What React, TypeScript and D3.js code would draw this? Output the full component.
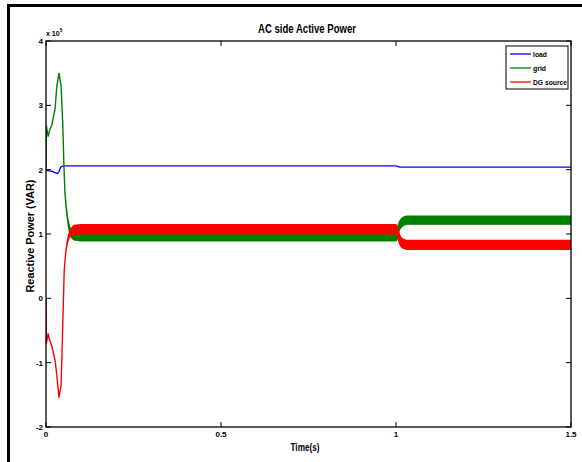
import React from "react";
import * as d3 from "d3";

// values in units of 10^5 VAR
const xTicks = [0, 0.5, 1, 1.5];
const xTickLabels = ["0", "0.5", "1", "1.5"];
const yTicks = [-2, -1, 0, 1, 2, 3, 4];
const yTickLabels = ["-2", "-1", "0", "1", "2", "3", "4"];

const seriesNames = ["load", "grid", "DG source"];
const seriesColors = ["#0000ff", "#008000", "#ff0000"];

const loadT = [0, 0.01, 0.02, 0.027, 0.033, 0.037, 0.042, 0.05, 0.1, 0.5, 1.0, 1.01, 1.5];
const loadV = [1.99, 1.98, 1.97, 1.95, 1.94, 1.97, 2.04, 2.06, 2.06, 2.06, 2.06, 2.04, 2.04];

const gridT = [0, 0.001, 0.006, 0.011, 0.017, 0.026, 0.031, 0.037, 0.043, 0.048, 0.051, 0.054, 0.058, 0.062, 0.066, 0.07, 0.08, 0.1, 1.0, 1.003, 1.006, 1.01, 1.015, 1.02, 1.03, 1.5];
const gridV = [2.0, 2.68, 2.52, 2.62, 2.7, 2.95, 3.3, 3.5, 3.3, 2.7, 2.1, 1.65, 1.4, 1.22, 1.1, 1.02, 0.97, 0.955, 0.955, 0.98, 1.06, 1.13, 1.17, 1.195, 1.215, 1.215];
const gridRipple = [0, 0, 0, 0, 0, 0, 0, 0, 0, 0, 0, 0, 0.01, 0.02, 0.04, 0.055, 0.062, 0.062, 0.062, 0.06, 0.06, 0.062, 0.062, 0.062, 0.062, 0.062];

const dgT = [0, 0.001, 0.006, 0.011, 0.017, 0.026, 0.031, 0.037, 0.043, 0.046, 0.049, 0.052, 0.056, 0.06, 0.065, 0.07, 0.08, 0.1, 1.0, 1.003, 1.006, 1.01, 1.015, 1.02, 1.03, 1.5];
const dgV = [0, -0.7, -0.55, -0.66, -0.75, -0.97, -1.2, -1.54, -1.36, -0.82, -0.19, 0.43, 0.7, 0.85, 0.96, 1.02, 1.065, 1.075, 1.075, 1.06, 0.99, 0.92, 0.87, 0.85, 0.83, 0.83];
const dgRipple = [0, 0, 0, 0, 0, 0, 0, 0, 0, 0, 0, 0, 0, 0.01, 0.03, 0.05, 0.068, 0.07, 0.07, 0.068, 0.065, 0.068, 0.068, 0.068, 0.068, 0.068];

const FONT = "'Liberation Sans', Arial, sans-serif";

export default function App() {
  const W = 582, H = 462;
  const L = 46, R = 571, T = 41, B = 427;
  const x = d3.scaleLinear().domain([0, 1.5]).range([L, R]);
  const y = d3.scaleLinear().domain([-2, 4]).range([B, T]);

  const line = d3.line<number>().x((_, i) => x(loadT[i])).y((v) => y(v));
  const loadPath = line(loadV) || "";

  const band = (ts: number[], vs: number[], rs: number[]) =>
    d3
      .area<number>()
      .x((_, i) => x(ts[i]))
      .y0((v, i) => y(v - rs[i]))
      .y1((v, i) => y(v + rs[i]))(vs) || "";

  const gridPath = band(gridT, gridV, gridRipple);
  const dgPath = band(dgT, dgV, dgRipple);

  const tickLen = 5;

  return (
    <svg
      width={W}
      height={H}
      style={{ position: "absolute", left: 0, top: 0, display: "block", background: "#fff" }}
    >
      <rect x={0} y={0} width={W} height={H} fill="#fff" />
      {/* outer frame */}
      <rect x={8.5} y={5.5} width={590} height={480} fill="none" stroke="#000" strokeWidth={3} />

      <defs>
        <clipPath id="plotclip">
          <rect x={L} y={T} width={R - L} height={B - T} />
        </clipPath>
      </defs>

      {/* series */}
      <g clipPath="url(#plotclip)">
        <path d={loadPath} fill="none" stroke={seriesColors[0]} strokeWidth={1.3} />
        <path d={gridPath} fill={seriesColors[1]} stroke={seriesColors[1]} strokeWidth={1.4} strokeLinejoin="round" />
        <path d={dgPath} fill={seriesColors[2]} stroke={seriesColors[2]} strokeWidth={1.4} strokeLinejoin="round" />
      </g>

      {/* axes box */}
      <rect x={L} y={T} width={R - L} height={B - T} fill="none" stroke="#000" strokeWidth={1.3} />

      {/* y ticks */}
      {yTicks.map((v, i) => (
        <g key={"y" + i}>
          <line x1={L} x2={L + tickLen} y1={y(v)} y2={y(v)} stroke="#000" strokeWidth={1} />
          <line x1={R} x2={R - tickLen} y1={y(v)} y2={y(v)} stroke="#000" strokeWidth={1} />
          <text
            x={L - 3}
            y={y(v) + 3}
            textAnchor="end"
            fontFamily={FONT}
            fontWeight="bold"
            fontSize={8}
          >
            {yTickLabels[i]}
          </text>
        </g>
      ))}

      {/* x ticks */}
      {xTicks.map((v, i) => (
        <g key={"x" + i}>
          <line x1={x(v)} x2={x(v)} y1={B} y2={B - tickLen} stroke="#000" strokeWidth={1} />
          <line x1={x(v)} x2={x(v)} y1={T} y2={T + tickLen} stroke="#000" strokeWidth={1} />
          <text
            x={x(v)}
            y={B + 10}
            textAnchor="middle"
            fontFamily={FONT}
            fontWeight="bold"
            fontSize={8}
          >
            {xTickLabels[i]}
          </text>
        </g>
      ))}

      {/* exponent */}
      <text x={L} y={T - 5} fontFamily={FONT} fontWeight="bold" fontSize={7}>
        x 10
        <tspan fontSize={5} dy={-4}>5</tspan>
      </text>

      {/* title */}
      <text
        x={307}
        y={33}
        textAnchor="middle"
        fontFamily={FONT}
        fontWeight="bold"
        fontSize={12}
        textLength={98}
        lengthAdjust="spacingAndGlyphs"
      >
        AC side Active Power
      </text>

      {/* x label */}
      <text
        x={305}
        y={451}
        textAnchor="middle"
        fontFamily={FONT}
        fontWeight="bold"
        fontSize={11}
        textLength={29}
        lengthAdjust="spacingAndGlyphs"
      >
        Time(s)
      </text>

      {/* y label */}
      <text
        transform={`translate(34, 236) rotate(-90)`}
        textAnchor="middle"
        fontFamily={FONT}
        fontWeight="bold"
        fontSize={10}
        textLength={113}
        lengthAdjust="spacingAndGlyphs"
      >
        Reactive Power (VAR)
      </text>

      {/* legend */}
      <rect x={506} y={46} width={62} height={43} fill="#fff" stroke="#000" strokeWidth={1} />
      {seriesNames.map((n, i) => (
        <g key={"lg" + i}>
          <line
            x1={510}
            x2={531}
            y1={54 + i * 14}
            y2={54 + i * 14}
            stroke={seriesColors[i]}
            strokeWidth={1.3}
          />
          <text
            x={533}
            y={57 + i * 14}
            fontFamily={FONT}
            fontWeight="bold"
            fontSize={8}
            textLength={n === "DG source" ? 34 : n === "load" ? 14 : 13}
            lengthAdjust="spacingAndGlyphs"
          >
            {n}
          </text>
        </g>
      ))}
    </svg>
  );
}
